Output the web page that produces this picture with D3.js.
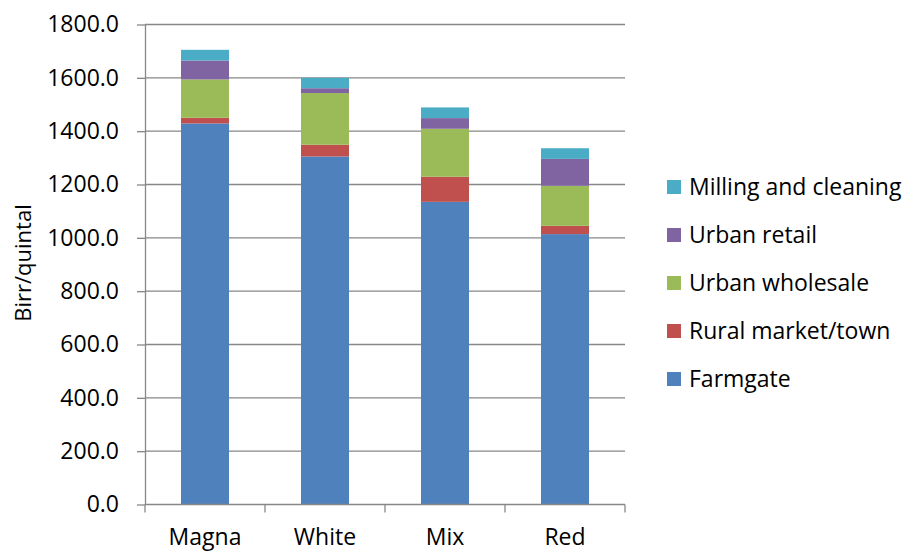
<!DOCTYPE html>
<html>
<head>
<meta charset="utf-8">
<script src="https://cdn.jsdelivr.net/npm/d3@7"></script>
<style>
  body { margin: 0; background: #fff; }
  .chart text { font-family: "Open Sans", sans-serif; fill: #000; }
  .chart .axis path, .chart .axis line { stroke: #878787; }
</style>
</head>
<body>
<div class="chart" id="chart"></div>
<script>
// values (Birr/quintal)
var categories = ['Magna', 'White', 'Mix', 'Red'];
var seriesNames = ['Farmgate', 'Rural market/town', 'Urban wholesale', 'Urban retail', 'Milling and cleaning'];
var farmgate = [1429, 1305, 1135, 1014];
var ruralMarket = [21, 44, 94, 31];
var urbanWholesale = [144, 194, 180, 150];
var urbanRetail = [71, 18, 40, 101];
var milling = [40, 39, 40, 40];
var yTicks = [0, 200, 400, 600, 800, 1000, 1200, 1400, 1600, 1800];
var colors = ['#4F81BD', '#C0504D', '#9BBB59', '#8064A2', '#4BACC6'];

var width = 906, height = 551;
var margin = { top: 24.5, right: 281, bottom: 46.5, left: 145 };
var plotW = width - margin.left - margin.right;
var plotH = height - margin.top - margin.bottom;

var seriesValues = [farmgate, ruralMarket, urbanWholesale, urbanRetail, milling];
var rows = categories.map(function(c, i) {
  var r = { cat: c };
  seriesNames.forEach(function(s, j) { r[s] = seriesValues[j][i]; });
  return r;
});
var stacked = d3.stack().keys(seriesNames)(rows);

var svg = d3.select('#chart').append('svg')
  .attr('width', width)
  .attr('height', height);

var g = svg.append('g')
  .attr('transform', 'translate(' + margin.left + ',' + margin.top + ')');

var x = d3.scaleBand()
  .domain(categories)
  .range([0, plotW])
  .paddingInner(0.6)
  .paddingOuter(0.3);

var y = d3.scaleLinear()
  .domain([0, 1800])
  .range([plotH, 0]);

// gridlines
g.append('g')
  .selectAll('line')
  .data(yTicks.slice(1))
  .enter().append('line')
    .attr('x1', 0)
    .attr('x2', plotW)
    .attr('y1', function(d) { return y(d); })
    .attr('y2', function(d) { return y(d); })
    .attr('stroke', '#878787')
    .attr('stroke-width', 1.3);

// bars
g.append('g')
  .selectAll('g')
  .data(stacked)
  .enter().append('g')
    .attr('fill', function(d, i) { return colors[i]; })
  .selectAll('rect')
  .data(function(d) { return d; })
  .enter().append('rect')
    .attr('x', function(d) { return x(d.data.cat); })
    .attr('y', function(d) { return y(d[1]); })
    .attr('height', function(d) { return y(d[0]) - y(d[1]); })
    .attr('width', x.bandwidth());

// y axis
var yAxis = g.append('g')
  .attr('class', 'axis axis-y')
  .call(d3.axisLeft(y).tickValues(yTicks).tickSize(8).tickSizeOuter(0).tickPadding(18).tickFormat(d3.format('.1f')));
yAxis.selectAll('text').style('font-size', '23px');
yAxis.select('.domain').attr('stroke-width', 1.3);
yAxis.selectAll('line').attr('stroke-width', 1.3);

// x axis: ticks between categories
var xAxis = g.append('g')
  .attr('class', 'axis axis-x')
  .attr('transform', 'translate(0,' + plotH + ')');
xAxis.append('line')
  .attr('x1', 0).attr('x2', plotW)
  .attr('stroke-width', 1.3);
var step = x.step();
var bounds = [0].concat(categories.map(function(c) { return x(c) + x.bandwidth() + step * 0.3; }));
xAxis.selectAll('.tick-b')
  .data(bounds)
  .enter().append('line')
    .attr('x1', function(d) { return d; })
    .attr('x2', function(d) { return d; })
    .attr('y1', 0).attr('y2', 8)
    .attr('stroke-width', 1.3);
xAxis.selectAll('.lbl')
  .data(categories)
  .enter().append('text')
    .attr('x', function(d) { return x(d) + x.bandwidth() / 2; })
    .attr('y', 40)
    .attr('text-anchor', 'middle')
    .style('font-size', '23px')
    .text(function(d) { return d; });

// y title
svg.append('text')
  .attr('transform', 'translate(31,263) rotate(-90)')
  .attr('text-anchor', 'middle')
  .style('font-size', '22px')
  .text('Birr/quintal');

// legend, top entry is the last series
var legend = svg.append('g')
  .attr('transform', 'translate(667,187)');
var items = legend.selectAll('g')
  .data(seriesNames.slice().reverse())
  .enter().append('g')
    .attr('transform', function(d, i) { return 'translate(0,' + (i * 48) + ')'; });
items.append('rect')
  .attr('x', 0).attr('y', -7)
  .attr('width', 14).attr('height', 14)
  .attr('fill', function(d) { return colors[seriesNames.indexOf(d)]; });
items.append('text')
  .attr('x', 22)
  .attr('dy', '0.35em')
  .style('font-size', '23px')
  .text(function(d) { return d; });
</script>
</body>
</html>
